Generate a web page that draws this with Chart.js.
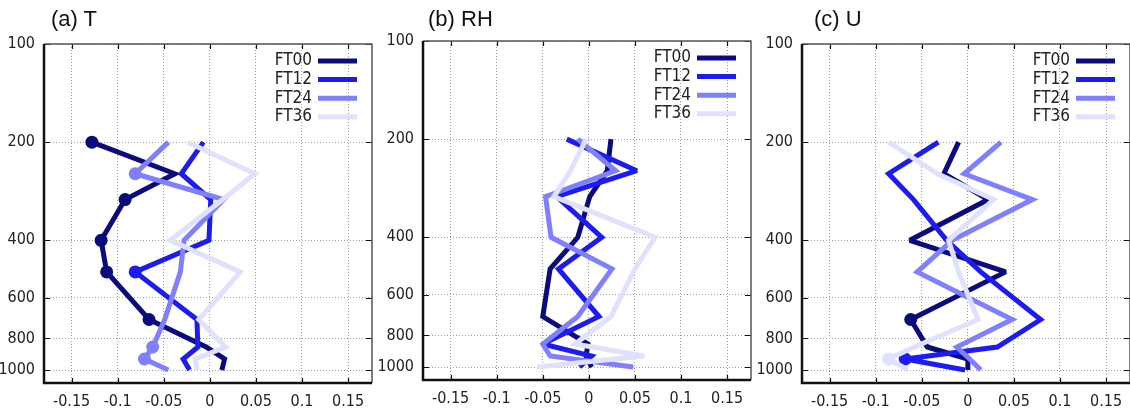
<!DOCTYPE html>
<html>
<head>
<meta charset="utf-8">
<script src="https://cdn.jsdelivr.net/npm/chart.js@4.4.1/dist/chart.umd.min.js"></script>
<style>
  html, body { margin: 0; padding: 0; background: #fff; width: 1130px; height: 414px; overflow: hidden; }
  .panel { position: absolute; width: 379px; height: 414px; }
  .panel canvas { position: absolute; left: 0; top: 0; }
  .title { position: absolute; font-family: "Liberation Sans", Arial, sans-serif; font-size: 22px; color: #111; white-space: nowrap; }
</style>
</head>
<body>
<div class="panel" id="pa" style="left:0px;top:0px"><canvas id="chartT" width="379" height="414"></canvas></div>
<div class="panel" id="pb" style="left:379px;top:-3px"><canvas id="chartRH" width="379" height="414"></canvas></div>
<div class="panel" id="pc" style="left:758px;top:0px"><canvas id="chartU" width="379" height="414"></canvas></div>
<div class="title" style="left:51px;top:6px">(a) T</div>
<div class="title" style="left:428px;top:6px">(b) RH</div>
<div class="title" style="left:814px;top:6px">(c) U</div>
<script>
// pressure levels (hPa), one value per level for each forecast time
const levels = [200, 250, 300, 400, 500, 700, 850, 925, 1000];
const seriesNames = ["FT00", "FT12", "FT24", "FT36"];
const seriesColors = ["#0b0b7e", "#1c1cf2", "#7f7fff", "#e0e0ff"];
const yTicks = [100, 200, 400, 600, 800, 1000];
const xTicks = [-0.15, -0.1, -0.05, 0, 0.05, 0.1, 0.15];

// (a) T
const tFT00 = [-0.128, -0.038, -0.092, -0.118, -0.112, -0.066, -0.004, 0.016, 0.013];
const tFT12 = [-0.007, -0.031, 0.001, -0.001, -0.081, -0.014, -0.013, -0.029, -0.022];
const tFT24 = [-0.045, -0.081, 0.015, -0.028, -0.032, -0.049, -0.062, -0.071, -0.045];
const tFT36 = [-0.024, 0.049, 0.014, -0.043, 0.033, -0.012, 0.017, -0.016, -0.014];
const tDots = [[0, 2, 3, 4, 5], [4], [1, 6, 7], []];

// (b) RH
const rhFT00 = [0.024, 0.020, 0.001, -0.012, -0.042, -0.050, -0.001, -0.003, 0.003];
const rhFT12 = [-0.024, 0.052, -0.035, 0.014, -0.033, 0.011, -0.050, 0.003, -0.010];
const rhFT24 = [-0.012, 0.029, -0.047, -0.041, 0.025, -0.012, -0.050, -0.042, 0.048];
const rhFT36 = [-0.003, -0.020, -0.038, 0.072, 0.050, 0.024, -0.015, 0.060, -0.056];
const rhDots = [[], [], [], []];

// (c) U
const uFT00 = [-0.010, -0.026, 0.022, -0.063, 0.041, -0.062, -0.044, 0.000, 0.000];
const uFT12 = [-0.032, -0.086, -0.059, -0.023, 0.014, 0.079, 0.032, -0.068, -0.003];
const uFT24 = [0.036, -0.004, 0.070, -0.017, -0.055, 0.048, -0.012, 0.002, 0.014];
const uFT36 = [-0.086, -0.033, 0.028, -0.021, -0.010, 0.011, -0.058, -0.086, -0.065];
const uDots = [[5], [7], [], [7]];

const narrow = "'Liberation Sans Narrow', 'DejaVu Sans Condensed', 'Arial Narrow', sans-serif";

// frame, inward ticks and the legend drawn on top of the plot
const framePlugin = {
    id: "frame",
    beforeDatasetsDraw(chart) {
        // keep sharp corners from turning into long spikes
        chart.ctx.miterLimit = 2.5;
    },
    afterDraw(chart) {
        const ctx = chart.ctx;
        const a = chart.chartArea;
        const xs = chart.scales.x, ys = chart.scales.y;
        ctx.save();
        ctx.strokeStyle = "#111";
        ctx.lineWidth = 1.2;
        ctx.beginPath();
        xTicks.forEach((v) => {
            const px = Math.round(xs.getPixelForValue(v)) + 0.5;
            ctx.moveTo(px, a.top); ctx.lineTo(px, a.top + 5);
            ctx.moveTo(px, a.bottom); ctx.lineTo(px, a.bottom - 5);
        });
        yTicks.forEach((v) => {
            const py = Math.round(ys.getPixelForValue(v)) + 0.5;
            ctx.moveTo(a.left, py); ctx.lineTo(a.left + 6, py);
            ctx.moveTo(a.right, py); ctx.lineTo(a.right - 6, py);
        });
        ctx.stroke();

        // top / right thin, left / bottom thick
        ctx.strokeStyle = "#555";
        ctx.lineWidth = 1.5;
        ctx.beginPath();
        ctx.moveTo(a.left, a.top); ctx.lineTo(a.right, a.top); ctx.lineTo(a.right, a.bottom);
        ctx.stroke();
        ctx.strokeStyle = "#111";
        ctx.lineWidth = 2.5;
        ctx.beginPath();
        ctx.moveTo(a.left, a.top); ctx.lineTo(a.left, a.bottom); ctx.lineTo(a.right, a.bottom);
        ctx.stroke();

        // legend
        ctx.font = "17px " + narrow;
        ctx.textAlign = "right";
        ctx.textBaseline = "middle";
        chart.data.datasets.forEach((ds, i) => {
            const y = a.top + 17 + i * 18.6;
            ctx.fillStyle = "#222";
            ctx.fillText(ds.label, a.right - 60, y);
            ctx.strokeStyle = ds.borderColor;
            ctx.lineWidth = 5;
            ctx.beginPath();
            ctx.moveTo(a.right - 54, y); ctx.lineTo(a.right - 15, y);
            ctx.stroke();
        });
        ctx.restore();
    }
};

function makePanel(canvasId, series, dots) {
    const datasets = series.map((vals, i) => ({
        label: seriesNames[i],
        data: vals.map((v, k) => ({ x: v, y: levels[k] })),
        borderColor: seriesColors[i],
        backgroundColor: seriesColors[i],
        borderWidth: 5,
        showLine: true,
        pointRadius: levels.map((_, k) => (dots[i].includes(k) ? 6.5 : 0)),
        pointBorderWidth: 0,
        order: 4 - i,
    }));

    new Chart(document.getElementById(canvasId).getContext("2d"), {
        type: "scatter",
        data: { datasets },
        options: {
            responsive: false,
            animation: false,
            layout: { padding: { top: 44, right: 7, left: 0, bottom: 0 } },
            plugins: { legend: { display: false }, tooltip: { enabled: false } },
            scales: {
                x: {
                    type: "linear",
                    min: -0.18,
                    max: 0.176,
                    afterBuildTicks: (s) => { s.ticks = xTicks.map((v) => ({ value: v })); },
                    afterFit: (s) => { s.height = 31; },
                    ticks: {
                        padding: 9,
                        color: "#222",
                        font: { family: narrow, size: 16 },
                        maxRotation: 0,
                        callback: (v) => (v === 0 ? "0" : String(+v.toFixed(2))),
                    },
                    grid: { color: "#a0a0a0", lineWidth: 1, drawTicks: false },
                    border: { display: false, dash: [1, 2] },
                },
                y: {
                    type: "logarithmic",
                    reverse: true,
                    min: 100,
                    max: 1096,
                    afterBuildTicks: (s) => { s.ticks = yTicks.map((v) => ({ value: v })); },
                    afterFit: (s) => { s.width = 44; },
                    ticks: {
                        padding: 9,
                        color: "#222",
                        font: { family: narrow, size: 16 },
                        callback: (v) => String(v),
                    },
                    grid: { color: "#a0a0a0", lineWidth: 1, drawTicks: false },
                    border: { display: false, dash: [1, 2] },
                },
            },
        },
        plugins: [framePlugin],
    });
}

makePanel("chartT", [tFT00, tFT12, tFT24, tFT36], tDots);
makePanel("chartRH", [rhFT00, rhFT12, rhFT24, rhFT36], rhDots);
makePanel("chartU", [uFT00, uFT12, uFT24, uFT36], uDots);
</script>
</body>
</html>
